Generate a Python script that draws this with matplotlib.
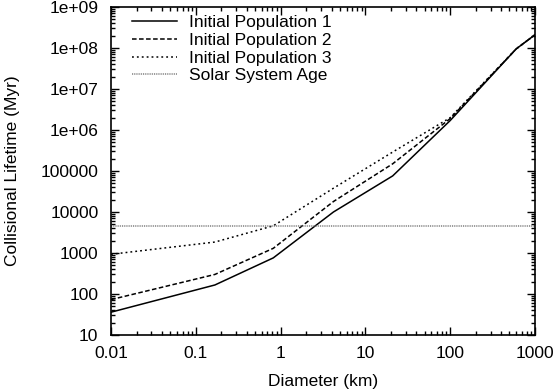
import matplotlib
matplotlib.use('Agg')
import matplotlib.pyplot as plt
from matplotlib.ticker import LogLocator, FixedLocator, FixedFormatter

diameter = [0.01, 0.168, 0.82, 4.2, 21, 100, 600, 1000]
pop1 = [36, 166, 760, 10000, 76000, 1.7e6, 9.5e7, 2.1e8]
pop2 = [73, 300, 1300, 18000, 150000, 1.9e6, 9.5e7, 2.1e8]
pop3 = [930, 1850, 4600, 38000, 290000, 2.0e6, 9.5e7, 2.1e8]
solar_age = 4500

xticks = [0.01, 0.1, 1, 10, 100, 1000]
xlabels = ['0.01', '0.1', '1', '10', '100', '1000']
yticks = [10, 100, 1000, 1e4, 1e5, 1e6, 1e7, 1e8, 1e9]
ylabels = ['10', '100', '1000', '10000', '100000', '1e+06', '1e+07', '1e+08', '1e+09']

plt.rcParams['font.family'] = ['Liberation Sans', 'DejaVu Sans']
plt.rcParams['font.size'] = 12.5

fig = plt.figure(figsize=(5.56, 3.89), dpi=100)
ax = fig.add_axes([0.1996, 0.1388, 0.7626, 0.8432])

ax.plot(diameter, pop1, color='black', lw=1.1, label='Initial Population 1')
ax.plot(diameter, pop2, color='black', lw=1.1, linestyle=(0, (3, 1.6)), label='Initial Population 2')
ax.plot(diameter, pop3, color='black', lw=1.1, linestyle=(0, (1.2, 2)), label='Initial Population 3')
ax.axhline(solar_age, color='0.45', lw=1.1, linestyle=(0, (0.6, 0.6)), label='Solar System Age')

ax.set_xscale('log')
ax.set_yscale('log')
ax.set_xlim(0.01, 1000)
ax.set_ylim(10, 1e9)

ax.xaxis.set_major_locator(FixedLocator(xticks))
ax.xaxis.set_major_formatter(FixedFormatter(xlabels))
ax.yaxis.set_major_locator(FixedLocator(yticks))
ax.yaxis.set_major_formatter(FixedFormatter(ylabels))
ax.xaxis.set_minor_locator(LogLocator(base=10, subs=range(2, 10)))
ax.yaxis.set_minor_locator(LogLocator(base=10, subs=range(2, 10)))
ax.tick_params(which='both', direction='in', top=True, right=True, width=1)
ax.tick_params(which='major', length=6)
ax.tick_params(axis='y', which='major', pad=9)
ax.tick_params(axis='x', which='major', pad=8)
ax.tick_params(which='minor', length=3)
for s in ax.spines.values():
    s.set_linewidth(1.2)

ax.set_xlabel('Diameter (km)', labelpad=9)
ax.set_ylabel('Collisional Lifetime (Myr)', labelpad=15)

ax.legend(loc='upper left', frameon=False, handlelength=2.6, handletextpad=0.7,
          labelspacing=0.15, borderaxespad=0.1, bbox_to_anchor=(0.028, 1.002))

fig.savefig('out.png', dpi=100)
